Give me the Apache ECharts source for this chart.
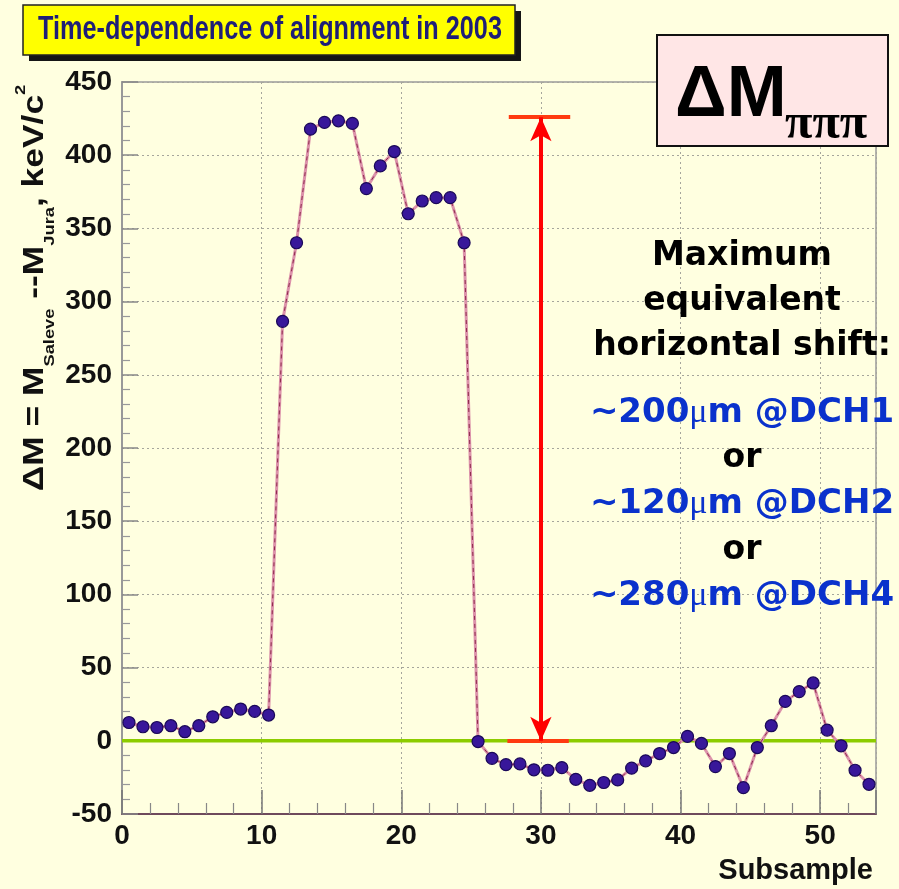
<!DOCTYPE html>
<html>
<head>
<meta charset="utf-8">
<script src="https://cdn.jsdelivr.net/npm/echarts@6/dist/echarts.min.js"></script>
<style>
  html, body { margin: 0; padding: 0; background: #ffffe0; }
  #chart { width: 899px; height: 889px; }
</style>
</head>
<body>
<div id="chart"></div>
<script>
// Subsample bin centres
const subsample = [
  0.5, 1.5, 2.5, 3.5, 4.5, 5.5, 6.5, 7.5, 8.5, 9.5,
  10.5, 11.5, 12.5, 13.5, 14.5, 15.5, 16.5, 17.5, 18.5, 19.5,
  20.5, 21.5, 22.5, 23.5, 24.5, 25.5, 26.5, 27.5, 28.5, 29.5,
  30.5, 31.5, 32.5, 33.5, 34.5, 35.5, 36.5, 37.5, 38.5, 39.5,
  40.5, 41.5, 42.5, 43.5, 44.5, 45.5, 46.5, 47.5, 48.5, 49.5,
  50.5, 51.5, 52.5, 53.5
];

// ΔM = M(Saleve) - M(Jura), keV/c^2, per subsample
const deltaM = [
  12.5, 9.6, 9.1, 10.3, 6.2, 10.3, 16.4, 19.4, 21.7, 20.1,
  17.6, 286.5, 340.2, 417.8, 422.4, 423.5, 421.7, 377.2, 392.7, 402.5,
  360.0, 368.7, 371.0, 371.0, 340.2, -0.5, -12.0, -16.3, -15.8, -19.8,
  -20.1, -18.3, -26.3, -30.4, -28.5, -26.7, -18.7, -13.7, -8.7, -4.6,
  3.0, -1.8, -17.6, -8.7, -32.0, -4.6, 10.3, 26.9, 33.6, 39.5,
  7.3, -3.4, -20.1, -29.7
];

// Axis ranges
const xRange = [0, 54];
const xStep = 10;
const yRange = [-50, 450];
const yStep = 50;

// Reference level and the maximum-spread marker
const zeroLevel = [[0, 0], [54, 0]];
const spreadLevels = [0, 426];
const spreadBarX = [27.7, 32.1];
const spreadArrowX = 30;

// Text block on the right
const noteLines = [
  { text: 'Maximum', y: 267 },
  { text: 'equivalent', y: 312 },
  { text: 'horizontal shift:', y: 357 },
  { text: ['~200', 'm @DCH1'], y: 424 },
  { text: 'or', y: 469 },
  { text: ['~120', 'm @DCH2'], y: 515 },
  { text: 'or', y: 561 },
  { text: ['~280', 'm @DCH4'], y: 607 }
];

const points = subsample.map((x, i) => [x, deltaM[i]]);

const chart = echarts.init(document.getElementById('chart'), null, { renderer: 'canvas' });

const BOLD = 'bold';
const SANS = 'Liberation Sans';

const noteRich = {
  k: { fontFamily: 'DejaVu Sans', fontWeight: BOLD, fontSize: 33, fill: '#000000', lineHeight: 40 },
  b: { fontFamily: 'DejaVu Sans', fontWeight: BOLD, fontSize: 34, fill: '#0a32cc', lineHeight: 40 },
  mu: { fontFamily: 'Liberation Serif', fontSize: 34, fill: '#0a32cc', lineHeight: 40 }
};

const noteGraphics = noteLines.map(l => {
  const txt = Array.isArray(l.text)
    ? '{b|' + l.text[0] + '}{mu|μ}{b|' + l.text[1] + '}'
    : '{k|' + l.text + '}';
  return {
    type: 'text', x: 742, y: l.y - 11, z: 20,
    style: { text: txt, rich: noteRich, align: 'center', verticalAlign: 'middle' }
  };
});

const option = {
  backgroundColor: '#ffffe0',
  animation: false,
  grid: {
    left: 122, right: 23, top: 82, bottom: 75,
    show: true, borderColor: '#9a9a9a', borderWidth: 1.5, backgroundColor: 'transparent'
  },
  xAxis: {
    type: 'value', min: xRange[0], max: xRange[1], interval: xStep,
    axisLine: { show: true, onZero: false, lineStyle: { color: '#6e4a5c', width: 2 } },
    axisTick: { show: true, inside: true, length: 24, lineStyle: { color: '#777777', width: 1.5 } },
    minorTick: { show: true, splitNumber: 5, length: 11, lineStyle: { color: '#888888', width: 1.2 } },
    axisLabel: {
      showMaxLabel: false, color: '#111111', fontSize: 28, fontWeight: BOLD,
      fontFamily: SANS, margin: 8
    },
    splitLine: { show: true, lineStyle: { color: '#a6a69c', type: [2, 3], width: 1 } }
  },
  yAxis: {
    type: 'value', min: yRange[0], max: yRange[1], interval: yStep,
    axisLine: { show: true, onZero: false, lineStyle: { color: '#999999', width: 2 } },
    axisTick: { show: true, inside: true, length: 16, lineStyle: { color: '#888888', width: 1.5 } },
    minorTick: { show: true, splitNumber: 5, length: 8, lineStyle: { color: '#999999', width: 1.2 } },
    axisLabel: { color: '#111111', fontSize: 28, fontWeight: BOLD, fontFamily: SANS, margin: 10 },
    splitLine: { show: true, lineStyle: { color: '#a6a69c', type: [2, 3], width: 1 } }
  },
  series: [
    {
      // zero reference line plus the maximum-spread markers
      type: 'line', data: zeroLevel, symbol: 'none', z: 2, silent: true,
      lineStyle: { color: '#8ccc00', width: 3.5 },
      markLine: {
        silent: true, animation: false, symbol: 'none', label: { show: false },
        data: [
          [{ coord: [spreadBarX[0], spreadLevels[1]], lineStyle: { color: '#ff3a10', width: 4, type: 'solid' } },
           { coord: [spreadBarX[1], spreadLevels[1]] }],
          [{ coord: [spreadBarX[0] - 0.1, spreadLevels[0]], lineStyle: { color: '#ff3a10', width: 4, type: 'solid' } },
           { coord: [spreadBarX[1] - 0.1, spreadLevels[0]] }],
          [{ coord: [spreadArrowX, spreadLevels[1]], symbol: 'arrow', symbolSize: [16, 24],
             lineStyle: { color: '#ff0000', width: 4, type: 'solid' } },
           { coord: [spreadArrowX, spreadLevels[0]], symbol: 'arrow', symbolSize: [16, 24] }]
        ]
      }
    },
    {
      type: 'line', data: points, symbol: 'none', z: 3, silent: true,
      lineStyle: { color: '#dc92aa', width: 3 }
    },
    {
      type: 'line', data: points, symbol: 'none', z: 4, silent: true,
      lineStyle: { color: '#8e2a4c', width: 1, type: [4, 4] }
    },
    {
      type: 'scatter', data: points, symbol: 'circle', symbolSize: 12, z: 6, silent: true,
      itemStyle: { color: '#38179a', borderColor: '#1a0858', borderWidth: 1.2, opacity: 1 }
    }
  ],
  graphic: [
    // title box with drop shadow
    { type: 'rect', z: 10, shape: { x: 29, y: 11, width: 492, height: 50 }, style: { fill: '#151515' } },
    { type: 'rect', z: 11, shape: { x: 23, y: 5, width: 492, height: 50 },
      style: { fill: '#ffff00', stroke: '#222222', lineWidth: 1.5 } },
    { type: 'text', z: 12, x: 270, y: 30, scaleX: 0.765,
      style: { text: 'Time-dependence of alignment in 2003', fontFamily: SANS, fontWeight: BOLD,
               fontSize: 33, fill: '#1e1e78', align: 'center', verticalAlign: 'middle' } },
    // ΔMπππ label box
    { type: 'rect', z: 10, shape: { x: 657, y: 35, width: 231, height: 111 },
      style: { fill: '#ffe6e6', stroke: '#111111', lineWidth: 2 } },
    { type: 'text', z: 12, x: 675, y: 96,
      style: { text: 'ΔM', fontFamily: SANS, fontWeight: BOLD, fontSize: 72, fill: '#000000',
               align: 'left', verticalAlign: 'middle' } },
    { type: 'text', z: 12, x: 785, y: 125,
      style: { text: 'πππ', fontFamily: 'Liberation Serif', fontWeight: BOLD, fontSize: 50, fill: '#000000',
               align: 'left', verticalAlign: 'middle' } },
    // y-axis title, read bottom to top
    { type: 'text', z: 12, x: 35, y: 288, rotation: Math.PI / 2, scaleX: 1.22,
      style: {
        text: '{m|ΔM = M}{s|Saleve}{m| --M}{s|Jura}{m|, keV/c}{p|2}',
        align: 'center', verticalAlign: 'middle',
        rich: {
          m: { fontFamily: SANS, fontWeight: BOLD, fontSize: 29, fill: '#111111', lineHeight: 44, verticalAlign: 'middle' },
          s: { fontFamily: SANS, fontWeight: BOLD, fontSize: 15, fill: '#111111', lineHeight: 10, verticalAlign: 'bottom' },
          p: { fontFamily: SANS, fontWeight: BOLD, fontSize: 15, fill: '#111111', lineHeight: 10, verticalAlign: 'top' }
        }
      } },
    // x-axis title
    { type: 'text', z: 12, x: 873, y: 871,
      style: { text: 'Subsample', fontFamily: SANS, fontWeight: BOLD, fontSize: 29, fill: '#111111',
               align: 'right', verticalAlign: 'middle' } }
  ].concat(noteGraphics)
};

chart.setOption(option);
</script>
</body>
</html>
